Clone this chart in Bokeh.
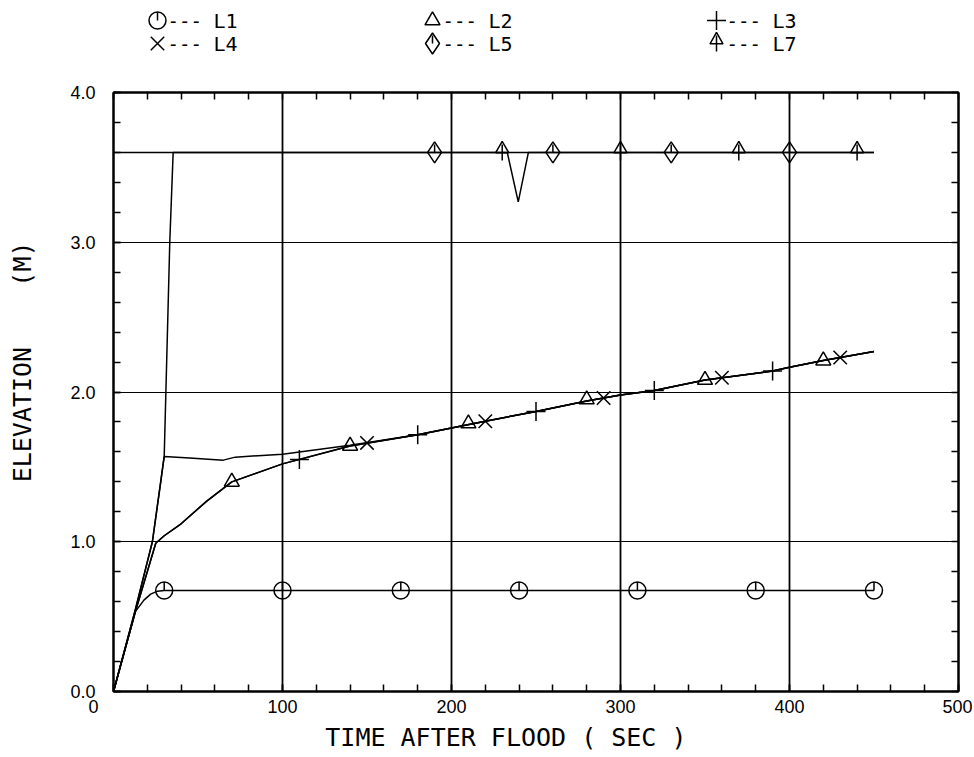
from bokeh.plotting import figure
from bokeh.models import Range1d, SingleIntervalTicker, LinearAxis, FixedTicker
from bokeh.layouts import column
from bokeh.embed import file_html
from bokeh.resources import INLINE
from bokeh.core.properties import value

# ---------------- data ----------------
x_grid = [100, 200, 300, 400]
y_grid = [1, 2, 3]
y_tick_labels = {0: "0.0", 1: "1.0", 2: "2.0", 3: "3.0", 4: "4.0"}
x_tick_labels = {0: "0", 100: "100", 200: "200", 300: "300", 400: "400", 500: "500"}

series_names = ["L1", "L2", "L3", "L4", "L5", "L7"]

# L1 (circle)
l1_x = [0, 13, 18, 22, 26, 30, 450]
l1_y = [0, 0.535, 0.61, 0.65, 0.67, 0.675, 0.675]
l1_mx = [30, 100, 170, 240, 310, 380, 450]
l1_my = [0.675, 0.675, 0.675, 0.675, 0.675, 0.675, 0.675]

# L2 (triangle)
l2_x = [0, 13, 25, 30, 40, 55, 70, 100, 140, 180, 220, 250, 280, 300, 320, 350, 390, 400, 420, 450]
l2_y = [0, 0.535, 0.99, 1.04, 1.12, 1.27, 1.40, 1.52, 1.64, 1.715, 1.805, 1.87, 1.94, 1.98, 2.01, 2.08, 2.14, 2.165, 2.21, 2.27]
l2_mx = [70, 140, 210, 280, 350, 420]
l2_my = [1.40, 1.64, 1.79, 1.95, 2.08, 2.21]

# L3 (plus)
l3_x = [0, 13, 23, 28, 30, 45, 65, 72, 100, 120, 140, 180, 220, 250, 280, 300, 320, 350, 390, 400, 420, 450]
l3_y = [0, 0.55, 1.0, 1.405, 1.57, 1.56, 1.545, 1.565, 1.585, 1.615, 1.645, 1.715, 1.805, 1.87, 1.94, 1.98, 2.01, 2.08, 2.14, 2.165, 2.21, 2.27]
l3_mx = [110, 180, 250, 320, 390]
l3_my = [1.55, 1.715, 1.87, 2.01, 2.14]

# L4 (x)
l4_x = [0, 13, 25, 30, 40, 55, 70, 100, 140, 180, 220, 250, 280, 300, 320, 350, 390, 400, 420, 450]
l4_y = [0, 0.535, 0.99, 1.04, 1.12, 1.27, 1.40, 1.52, 1.64, 1.715, 1.805, 1.87, 1.94, 1.98, 2.01, 2.08, 2.14, 2.165, 2.21, 2.27]
l4_mx = [150, 220, 290, 360, 430]
l4_my = [1.66, 1.805, 1.96, 2.095, 2.23]

# L5 (diamond)
l5_x = [0, 13, 23, 28, 30, 31, 33.3, 35.3, 450]
l5_y = [0, 0.55, 1.0, 1.405, 1.57, 2.0, 3.0, 3.6, 3.6]
l5_mx = [190, 260, 330, 400]
l5_my = [3.6, 3.6, 3.6, 3.6]

# L7 (arrow)
l7_x = [0, 233, 239.5, 245.5, 450]
l7_y = [3.6, 3.6, 3.27, 3.6, 3.6]
l7_mx = [230, 300, 370, 440]
l7_my = [3.6, 3.6, 3.6, 3.6]

# ---------------- styles / layout ----------------
MONO = "DejaVu Sans Mono"
SANS = "Liberation Sans"
LW = 1.5
FRAME_W, FRAME_H = 845, 599
LEFT, RIGHT, TOP, BOTTOM = 113, 14, 14, 60
LEG_H = 78
FX0, FX1 = 113, 958           # frame left/right in picture pixels
NB = "\u00a0"


def draw_markers(fig, kind, xs, ys, uy):
    """uy: data units per screen pixel upward."""
    if kind == "circle_tick":
        fig.scatter(xs, ys, marker="circle", size=17, fill_color=None,
                    line_color="black", line_width=LW)
        fig.segment(xs, ys, xs, [y + 8.5 * uy for y in ys], line_color="black", line_width=LW)
    elif kind == "triangle":
        fig.scatter(xs, ys, marker="triangle", size=15, fill_color=None,
                    line_color="black", line_width=LW)
    elif kind == "cross":
        fig.scatter(xs, ys, marker="cross", size=19, fill_color=None,
                    line_color="black", line_width=LW)
    elif kind == "x":
        fig.scatter(xs, ys, marker="x", size=19, fill_color=None,
                    line_color="black", line_width=LW)
    elif kind == "diamond_tick":
        fig.scatter(xs, ys, marker="diamond", size=21, fill_color=None,
                    line_color="black", line_width=LW)
        fig.segment(xs, ys, xs, [y + 8 * uy for y in ys], line_color="black", line_width=LW)
    elif kind == "arrow":
        fig.scatter(xs, [y + 3.5 * uy for y in ys], marker="triangle", size=13,
                    fill_color=None, line_color="black", line_width=LW)
        fig.segment(xs, [y - 8 * uy for y in ys], xs, [y + 8 * uy for y in ys],
                    line_color="black", line_width=LW)


kinds = ["circle_tick", "triangle", "cross", "x", "diamond_tick", "arrow"]

# ---------------- legend figure (coordinates = picture pixels) ----------------
leg = figure(frame_width=FRAME_W, frame_height=LEG_H,
             x_range=Range1d(FX0, FX1), y_range=Range1d(LEG_H, 0),
             output_backend="svg", toolbar_location=None,
             min_border_left=LEFT, min_border_right=RIGHT,
             min_border_top=0, min_border_bottom=0)
leg.axis.visible = False
leg.grid.visible = False
leg.outline_line_color = None

col_x = [157, 432, 716]
row_y = [20, 43]
for i, (name, kind) in enumerate(zip(series_names, kinds)):
    cx = col_x[i % 3]
    cy = row_y[i // 3]
    draw_markers(leg, kind, [cx], [cy], -1.0)
    leg.text(x=[cx + 10], y=[cy], text=["---"], text_font=value(MONO), text_font_size="19px",
             text_align="left", text_baseline="middle", text_color="black")
    leg.text(x=[cx + 56], y=[cy], text=[name], text_font=value(MONO), text_font_size="20px",
             text_align="left", text_baseline="middle", text_color="black")

# ---------------- main figure ----------------
p = figure(frame_width=FRAME_W, frame_height=FRAME_H,
           x_range=Range1d(0, 500), y_range=Range1d(0, 4),
           output_backend="svg", toolbar_location=None,
           min_border_left=LEFT, min_border_right=RIGHT,
           min_border_top=TOP, min_border_bottom=BOTTOM,
           x_axis_label="TIME AFTER FLOOD ( SEC )" + NB * 4,
           y_axis_label=NB * 4 + "ELEVATION" + NB * 4 + "(M)")

xt = SingleIntervalTicker(interval=100, num_minor_ticks=5)
yt = SingleIntervalTicker(interval=1, num_minor_ticks=5)

xa = p.xaxis[0]
ya = p.yaxis[0]
xa.ticker = xt
ya.ticker = yt
xlab = dict(x_tick_labels)
xlab[0] = "0" + "\u2007" * 4
xa.major_label_overrides = xlab
ya.major_label_overrides = y_tick_labels

for ax in (xa, ya):
    ax.major_tick_in = 7
    ax.major_tick_out = 0
    ax.minor_tick_in = 7
    ax.minor_tick_out = 0
    ax.major_tick_line_color = "black"
    ax.minor_tick_line_color = "black"
    ax.major_tick_line_width = 1.5
    ax.minor_tick_line_width = 1.5
    ax.axis_line_color = "black"
    ax.axis_line_width = 2
    ax.major_label_text_font = SANS
    ax.major_label_text_font_size = "18px"
    ax.major_label_text_color = "black"
    ax.axis_label_text_font = MONO
    ax.axis_label_text_font_size = "25px"
    ax.axis_label_text_font_style = "normal"
    ax.axis_label_text_color = "black"

xa.major_label_standoff = 5
xa.axis_label_standoff = 3
ya.major_label_standoff = 18
ya.axis_label_standoff = 30

# mirrored tick marks on the top and right edges (no labels)
top_minor = [20 * i for i in range(26)]
right_minor = [round(0.2 * i, 1) for i in range(21)]
for loc, mt in (("above", top_minor), ("right", right_minor)):
    ax = LinearAxis(ticker=FixedTicker(ticks=[], minor_ticks=mt))
    ax.major_label_standoff = 0
    ax.major_tick_in = 0
    ax.major_tick_out = 0
    ax.minor_tick_in = 7
    ax.minor_tick_out = 0
    ax.minor_tick_line_width = 1.5
    ax.minor_tick_line_color = "black"
    ax.axis_line_width = 2
    ax.axis_line_color = "black"
    p.add_layout(ax, loc)

p.xgrid.ticker = FixedTicker(ticks=x_grid)
p.ygrid.ticker = FixedTicker(ticks=y_grid)
p.xgrid.grid_line_color = "black"
p.xgrid.grid_line_width = 1.8
p.ygrid.grid_line_color = "black"
p.ygrid.grid_line_width = 1.2
p.outline_line_color = "black"
p.outline_line_width = 2
p.background_fill_color = "white"

lines = [(l1_x, l1_y), (l2_x, l2_y), (l3_x, l3_y), (l4_x, l4_y), (l5_x, l5_y), (l7_x, l7_y)]
marks = [(l1_mx, l1_my), (l2_mx, l2_my), (l3_mx, l3_my), (l4_mx, l4_my), (l5_mx, l5_my), (l7_mx, l7_my)]
uy = 4.0 / FRAME_H
for (lx, ly), (mx, my), kind in zip(lines, marks, kinds):
    p.line(lx, ly, line_color="black", line_width=LW)
    draw_markers(p, kind, mx, my, uy)

layout = column(leg, p, spacing=0)
open("out.html", "w").write(file_html(layout, INLINE))
